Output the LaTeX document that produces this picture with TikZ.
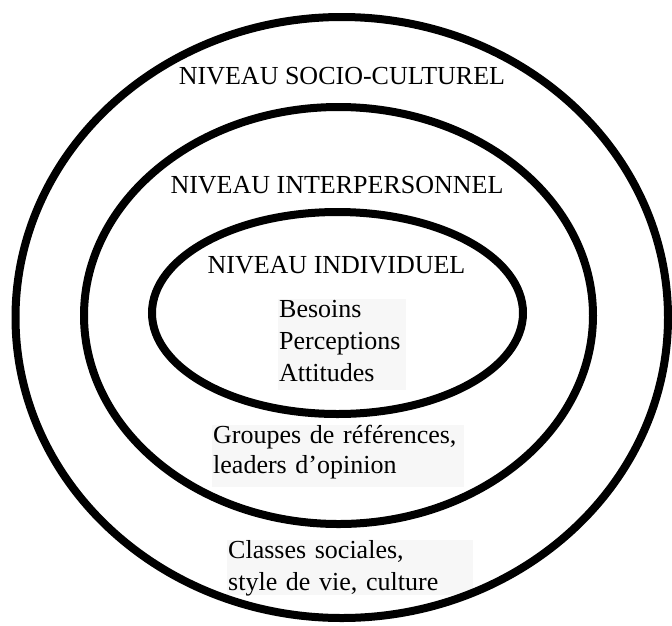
\documentclass[tikz,border=0pt]{standalone}
\usepackage{fontspec}
\setmainfont{Liberation Serif}
\definecolor{boxgray}{HTML}{F7F7F7}
\pgfdeclarelayer{foreground}
\pgfsetlayers{main,foreground}
\tikzset{
  ring/.style={line width=8pt},
  level/.style={anchor=base, inner sep=0pt},
  listbox/.style={anchor=north west, fill=boxgray, inner xsep=1pt, inner ysep=0pt, align=left, text height=18pt},
}

\begin{document}
\begin{tikzpicture}[x=1pt,y=-1pt,font=\fontsize{26}{32}\selectfont]

\useasboundingbox (0,0) rectangle (672,625);

\begin{pgfonlayer}{foreground}
% anneaux
\draw[ring] (341.75,317.5) ellipse [x radius=326.25pt, y radius=300.5pt];
\draw[ring] (338.5,315.5) ellipse [x radius=254.5pt, y radius=208.5pt];
\draw[ring] (337.5,313) ellipse [x radius=185.5pt, y radius=101pt];
\end{pgfonlayer}

% niveaux
\node[level] (socio) at (342,84) {NIVEAU SOCIO-CULTUREL};
\node[level] (inter) at (337,193) {NIVEAU INTERPERSONNEL};
\node[level] (indiv) at (336.5,273) {NIVEAU INDIVIDUEL};

% contenus
\node[listbox, text width=126pt, text depth=73pt] (besoins) at (278,299) {Besoins\\Perceptions\\Attitudes};
\node[listbox, text width=250pt, text depth=44pt, font=\fontsize{26}{30}\selectfont] (groupes) at (212,425) {Groupes de références,\\leaders d’opinion};
\node[listbox, text width=244pt, text depth=37pt] (classes) at (227,540) {Classes sociales,\\style de vie, culture};

\end{tikzpicture}
\end{document}
